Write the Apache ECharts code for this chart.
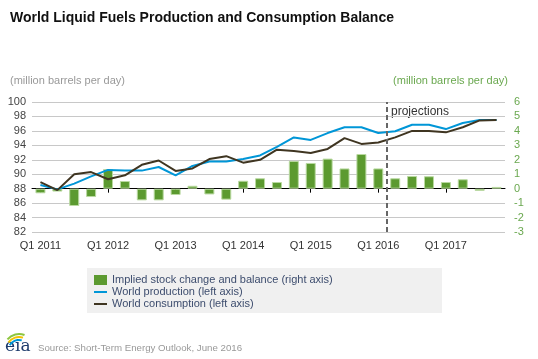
<!DOCTYPE html>
<html><head><meta charset="utf-8">
<script src="https://cdn.jsdelivr.net/npm/echarts@6/dist/echarts.min.js"></script>
<style>html,body{margin:0;padding:0;background:#fff}#c{width:538px;height:359px}</style>
</head><body><div id="c"></div>
<script>
var categories = ['Q1 2011','Q2 2011','Q3 2011','Q4 2011','Q1 2012','Q2 2012','Q3 2012','Q4 2012',
  'Q1 2013','Q2 2013','Q3 2013','Q4 2013','Q1 2014','Q2 2014','Q3 2014','Q4 2014',
  'Q1 2015','Q2 2015','Q3 2015','Q4 2015','Q1 2016','Q2 2016','Q3 2016','Q4 2016',
  'Q1 2017','Q2 2017','Q3 2017','Q4 2017'];
var stockChange = [-0.32,-0.2,-1.2,-0.58,1.35,0.53,-0.81,-0.81,
  -0.44,0.2,-0.4,-0.76,0.55,0.72,0.46,1.92,
  1.78,2.08,1.4,2.4,1.4,0.72,0.88,0.86,
  0.46,0.65,-0.15,0.12];
var production = [88.5,87.9,88.7,89.7,90.6,90.5,90.5,91.0,
  89.85,91.15,91.75,91.75,92.1,92.6,93.8,95.1,
  94.75,95.7,96.5,96.5,95.7,95.95,96.85,96.85,
  96.25,97.1,97.5,97.5];
var consumption = [88.9,87.8,90.0,90.3,89.3,89.85,91.3,91.9,
  90.45,90.8,92.1,92.5,91.6,92.0,93.4,93.2,
  92.95,93.5,95.0,94.2,94.4,95.1,96.0,96.0,
  95.8,96.5,97.45,97.5];
var leftTicks = {min:82, max:100, interval:2};
var rightTicks = {min:-3, max:6, interval:1};
var projectionStart = 21;

var chart = echarts.init(document.getElementById('c'), null, {renderer:'canvas'});
var font = 'Liberation Sans, Arial, sans-serif';
var lineIcon = 'path://M0,0L13,0L13,2L0,2Z';
chart.setOption({
  animation:false,
  backgroundColor:'#fff',
  textStyle:{fontFamily:font},
  title:{text:'World Liquid Fuels Production and Consumption Balance', left:5, top:6,
    textStyle:{fontSize:14, fontWeight:'bold', color:'#111', fontFamily:font}},
  grid:{left:32, right:33, top:102, bottom:127, containLabel:false},
  legend:{orient:'vertical', left:94, top:274, padding:0, itemWidth:13, itemHeight:10, itemGap:0,
    textStyle:{fontSize:11, lineHeight:12, color:'#3d4d6e', fontFamily:font},
    data:[{name:'Implied stock change and balance (right axis)', icon:'rect', itemStyle:{borderWidth:0}},
          {name:'World production (left axis)', icon:lineIcon},
          {name:'World consumption (left axis)', icon:lineIcon}]},
  graphic:[
    {type:'rect', left:87, top:268, z:-1, shape:{width:355, height:45}, style:{fill:'#f0f0f0'}},
    {type:'text', left:10, top:75, style:{text:'(million barrels per day)', fill:'#999', font:'11px '+font}},
    {type:'text', right:30, top:75, style:{text:'(million barrels per day)', fill:'#6aa84f', font:'11px '+font, textAlign:'right'}},
    {type:'text', left:391, top:106, style:{text:'projections', fill:'#333', font:'12px '+font}},
    {type:'text', left:38, top:343, style:{text:'Source: Short-Term Energy Outlook, June 2016', fill:'#999', font:'9.7px '+font}},
    {type:'text', left:5, top:338, style:{text:'eia', fill:'#1d3b6c', font:'17px DejaVu Serif, serif'}},
    {type:'arc', shape:{cx:19, cy:349, r:15, startAngle:-Math.PI*0.78, endAngle:-Math.PI*0.38}, style:{stroke:'#8dc63f', lineWidth:2, fill:null}},
    {type:'arc', shape:{cx:19, cy:350, r:13, startAngle:-Math.PI*0.80, endAngle:-Math.PI*0.40}, style:{stroke:'#f2c300', lineWidth:2, fill:null}},
    {type:'arc', shape:{cx:19, cy:351, r:11, startAngle:-Math.PI*0.82, endAngle:-Math.PI*0.42}, style:{stroke:'#0096d7', lineWidth:2, fill:null}}
  ],
  xAxis:[{type:'category', data:categories, boundaryGap:true,
    axisLine:{show:true, lineStyle:{color:'#000', width:1}},
    axisTick:{show:true, interval:3, alignWithLabel:true, length:4, lineStyle:{color:'#000'}},
    axisLabel:{interval:3, color:'#333', fontSize:11, margin:8, fontFamily:font},
    splitLine:{show:false}},
    {type:'value', min:0, max:categories.length, show:false}],
  yAxis:[{type:'value', min:leftTicks.min, max:leftTicks.max, interval:leftTicks.interval,
    axisLine:{show:false}, axisTick:{show:false},
    axisLabel:{color:'#444', fontSize:11, margin:6, fontFamily:font},
    splitLine:{lineStyle:{color:'#c8c8c8', width:1}}},
    {type:'value', min:rightTicks.min, max:rightTicks.max, interval:rightTicks.interval,
    axisLine:{show:false}, axisTick:{show:false},
    axisLabel:{color:'#6aa84f', fontSize:11, margin:9, fontFamily:font},
    splitLine:{show:false}}],
  series:[
    {name:'Implied stock change and balance (right axis)', type:'bar', yAxisIndex:1, data:stockChange,
      barWidth:10, itemStyle:{color:'#5c9a30', borderColor:'#b9d9a0', borderWidth:1}},
    {name:'World production (left axis)', type:'line', data:production, symbol:'none',
      lineStyle:{color:'#0096d7', width:2}, itemStyle:{color:'#0096d7'}},
    {name:'World consumption (left axis)', type:'line', data:consumption, symbol:'none',
      lineStyle:{color:'#3f3521', width:2}, itemStyle:{color:'#3f3521'}},
    {type:'line', xAxisIndex:1, yAxisIndex:0, data:[], silent:true,
      markLine:{silent:true, symbol:'none', label:{show:false},
        lineStyle:{color:'#666', type:[5,3], width:2},
        data:[{xAxis:projectionStart}]}}
  ]
});
</script></body></html>
